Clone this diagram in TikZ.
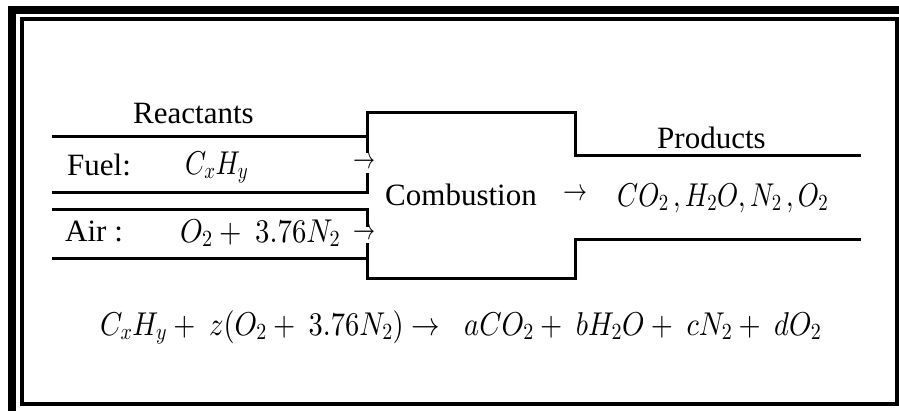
\documentclass[tikz,border=0pt]{standalone}
\usepackage{graphicx}
\usepackage{fontspec}
\setmainfont{Liberation Serif}
\DeclareFontShape{OML}{cmm}{m}{it}{<->cmmi10}{}
\DeclareFontShape{OMS}{cmsy}{m}{n}{<->cmsy10}{}
\DeclareFontShape{OMX}{cmex}{m}{n}{<->cmex10}{}
\DeclareFontShape{OT1}{cmr}{m}{n}{<->cmr10}{}
\newcommand\fitw[2]{\resizebox{#1}{\height}{#2}}
\begin{document}
\begin{tikzpicture}[x=1pt,y=-1pt,
  pipe/.style={line width=3pt, line join=miter},
  lbl/.style={inner sep=0pt, font=\fontsize{31}{37}\selectfont\rmfamily},
  lblw/.style={lbl, anchor=base west},
  mth/.style={inner sep=0pt, anchor=base west, font=\fontsize{33}{39}\selectfont\rmfamily},
  arr/.style={lbl, anchor=center}]
\useasboundingbox (0,0) rectangle (899,410);
\begin{scope}
  \clip (0,0) rectangle (899,410);
  \draw[line width=8pt] (12,10) rectangle (930,440);
  \draw[line width=4pt] (22,19) rectangle (897,404);
\end{scope}
% pipes
\draw[pipe] (52,136) -- (367,136) -- (367,112) -- (575,112) -- (575,155) -- (861,155);
\draw[pipe] (367,136) -- (367,153);
\draw[pipe] (367,173) -- (367,192) -- (52,192);
\draw[pipe] (52,209) -- (367,209) -- (367,227);
\draw[pipe] (52,258) -- (367,258);
\draw[pipe] (367,243) -- (367,278) -- (575,278) -- (575,239) -- (861,239);
% labels
\node[lblw] (reac) at (133,123) {Reactants};
\node[lblw] (fuel) at (67,175) {Fuel:};
\node[mth] (cxhy) at (185,174) {\fitw{63pt}{$C_xH_y$}};
\node[arr] (afuel) at (364,163) {\fitw{22pt}{$\rightarrow$}};
\node[lblw] (air) at (65,241) {Air :};
\node[mth] (oxy) at (180,242) {\fitw{160pt}{$O_2+\ 3.76N_2$}};
\node[arr] (aair) at (364,234) {\fitw{22pt}{$\rightarrow$}};
\node[lblw] (comb) at (385,205) {Combustion};
\node[arr] (amid) at (575,195) {\fitw{24pt}{$\rightarrow$}};
\node[mth] (prodl) at (617,206) {\fitw{211pt}{$CO_2\,,H_2O,N_2\,,O_2$}};
\node[lblw] (prod) at (657,148) {Products};
\node[mth] (eql) at (100,335) {\fitw{340pt}{$C_xH_y+\ z(O_2+\ 3.76N_2)\rightarrow$}};
\node[mth] (eqr) at (464,335) {\fitw{357pt}{$aCO_2+\ bH_2O+\ cN_2+\ dO_2$}};
\end{tikzpicture}
\end{document}
